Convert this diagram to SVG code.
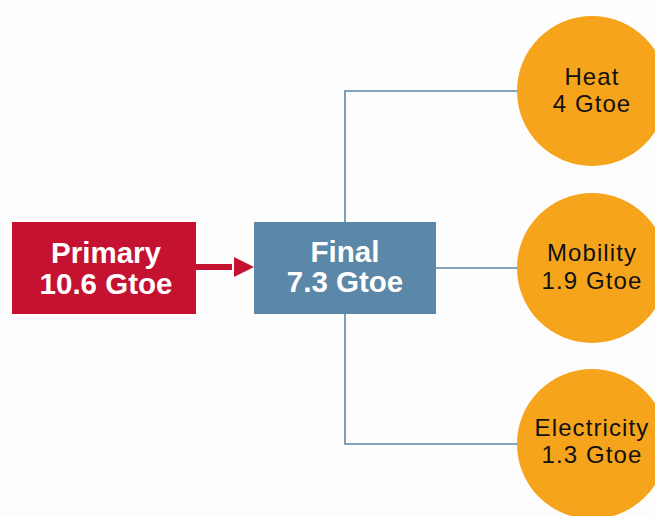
<svg xmlns="http://www.w3.org/2000/svg" width="655" height="516" viewBox="0 0 655 516">
<style>
.box-text{font-family:"Liberation Sans",Arial,sans-serif;font-weight:bold;font-size:29.5px;fill:#ffffff;text-anchor:middle}
.circ-text{font-family:"Liberation Sans",Arial,sans-serif;font-size:24px;fill:#111111;text-anchor:middle;letter-spacing:1.1px}
.conn{stroke:#5b87a8;stroke-width:1.6;fill:none}
.circ{fill:#f5a41c}
</style>
<rect x="0" y="0" width="655" height="516" fill="#fdfdfd"/>
<g id="connectors">
<path class="conn" d="M345 222 V91 H517"/>
<path class="conn" d="M345 314 V444 H517"/>
<path class="conn" d="M436 268 H517"/>
<g id="arrow-primary-final">
<rect x="196" y="264" width="36" height="6" fill="#c41230"/>
<polygon points="234,257 254,267 234,277" fill="#c41230"/>
</g>
</g>
<g id="primary">
<rect x="12" y="222" width="184" height="92" fill="#c41230"/>
<text class="box-text" x="106" y="263">Primary</text>
<text class="box-text" x="106" y="294">10.6 Gtoe</text>
</g>
<g id="final">
<rect x="254" y="222" width="182" height="92" fill="#5b87a8"/>
<text class="box-text" x="345" y="262">Final</text>
<text class="box-text" x="345" y="292">7.3 Gtoe</text>
</g>
<g id="heat">
<circle class="circ" cx="592" cy="91" r="75"/>
<text class="circ-text" x="592" y="85">Heat</text>
<text class="circ-text" x="592" y="112">4 Gtoe</text>
</g>
<g id="mobility">
<circle class="circ" cx="592" cy="268" r="75"/>
<text class="circ-text" x="592" y="261">Mobility</text>
<text class="circ-text" x="592" y="289">1.9 Gtoe</text>
</g>
<g id="electricity">
<circle class="circ" cx="592" cy="444" r="75"/>
<text class="circ-text" x="592" y="436">Electricity</text>
<text class="circ-text" x="592" y="463">1.3 Gtoe</text>
</g>
</svg>
